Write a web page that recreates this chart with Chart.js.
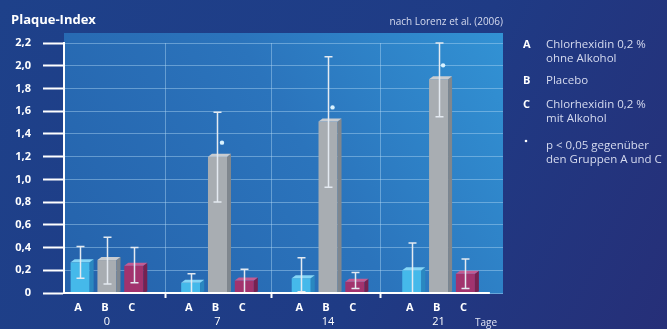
<!DOCTYPE html>
<html>
<head>
<meta charset="utf-8">
<script src="https://cdn.jsdelivr.net/npm/chart.js@4.4.1/dist/chart.umd.min.js"></script>
<style>
  html, body { margin: 0; padding: 0; background: #1f3b82; }
  canvas { display: block; }
</style>
</head>
<body>
<canvas id="chart" width="667" height="329"></canvas>
<script>
// Plaque-Index über die Zeit (Tage), Mittelwert und Streuung je Gruppe
const days = [0, 7, 14, 21];
const groupLetters = ['A', 'B', 'C'];

const meanA = [0.27, 0.09, 0.13, 0.20];
const meanB = [0.29, 1.20, 1.51, 1.88];
const meanC = [0.24, 0.11, 0.10, 0.17];

const lowA  = [0.13, 0.00, 0.01, 0.00];
const highA = [0.41, 0.17, 0.31, 0.44];
const lowB  = [0.08, 0.80, 0.93, 1.55];
const highB = [0.49, 1.59, 2.08, 2.20];
const lowC  = [0.09, 0.00, 0.04, 0.04];
const highC = [0.40, 0.21, 0.18, 0.30];

// p < 0,05 für Gruppe B gegenüber A und C
const significantB = [false, true, true, true];

const yTicks = [0, 0.2, 0.4, 0.6, 0.8, 1.0, 1.2, 1.4, 1.6, 1.8, 2.0, 2.2];
const dividerDays = [3.7, 10.45, 17.3];

const legendEntries = [
  { key: 'A', lines: ['Chlorhexidin 0,2 %', 'ohne Alkohol'] },
  { key: 'B', lines: ['Placebo'] },
  { key: 'C', lines: ['Chlorhexidin 0,2 %', 'mit Alkohol'] },
  { key: '•', lines: ['p < 0,05 gegenüber', 'den Gruppen A und C'] }
];

const X_MIN = -2.72, X_MAX = 25.08, AXIS_END = 24.25;
const FONT = "'Open Sans', 'DejaVu Sans', sans-serif";

const faces = [
  { front: '#45b9ea', side: '#2a88c0', top: '#86d6f6' },
  { front: '#a8adb2', side: '#80878e', top: '#c9ccd0' },
  { front: '#a2336e', side: '#772150', top: '#c45b92' }
];

function toPoints(values) { return days.map((d, i) => ({ x: d, y: values[i] })); }

const lows = [lowA, lowB, lowC];
const highs = [highA, highB, highC];

const D3X = 4, D3Y = 3;

const panelPlugin = {
  id: 'panel',
  beforeDraw(chart) {
    const { ctx, chartArea, scales } = chart;
    ctx.save();
    const g = ctx.createLinearGradient(0, 0, chart.width, chart.height);
    g.addColorStop(0, '#1e418a');
    g.addColorStop(0.6, '#1f3b85');
    g.addColorStop(1, '#262f78');
    ctx.fillStyle = g;
    ctx.fillRect(0, 0, chart.width, chart.height);
    const top = chartArea.top - 10;
    const bottom = scales.y.getPixelForValue(0) + 1;
    const pg = ctx.createLinearGradient(chartArea.left, bottom, chartArea.right, top);
    pg.addColorStop(0, '#2562ab');
    pg.addColorStop(0.55, '#2b74bc');
    pg.addColorStop(1, '#3292d4');
    ctx.fillStyle = pg;
    ctx.fillRect(chartArea.left, top, chartArea.right - chartArea.left, bottom - top);
    ctx.restore();
  }
};

const barDecorPlugin = {
  id: 'barDecor',
  afterDatasetsDraw(chart) {
    const { ctx, scales } = chart;
    const y = scales.y;
    ctx.save();
    chart.data.datasets.forEach((ds, di) => {
      const meta = chart.getDatasetMeta(di);
      meta.data.forEach(bar => {
        const p = bar.getProps(['x', 'y', 'base', 'width'], true);
        const l = p.x - p.width / 2, r = p.x + p.width / 2;
        // side face
        ctx.fillStyle = faces[di].side;
        ctx.beginPath();
        ctx.moveTo(r, p.base);
        ctx.lineTo(r, p.y);
        ctx.lineTo(r + D3X, p.y - D3Y);
        ctx.lineTo(r + D3X, p.base - 1);
        ctx.closePath();
        ctx.fill();
        // top face
        ctx.fillStyle = faces[di].top;
        ctx.beginPath();
        ctx.moveTo(l, p.y);
        ctx.lineTo(l + D3X, p.y - D3Y);
        ctx.lineTo(r + D3X, p.y - D3Y);
        ctx.lineTo(r, p.y);
        ctx.closePath();
        ctx.fill();
      });
    });
    // error bars
    ctx.strokeStyle = '#e4eaf1';
    ctx.lineWidth = 1.5;
    chart.data.datasets.forEach((ds, di) => {
      const meta = chart.getDatasetMeta(di);
      meta.data.forEach((bar, i) => {
        const x = Math.round(bar.x) + 0.5;
        const yl = y.getPixelForValue(lows[di][i]);
        const yh = y.getPixelForValue(highs[di][i]);
        ctx.beginPath();
        ctx.moveTo(x, yl); ctx.lineTo(x, yh);
        ctx.moveTo(x - 4, yl); ctx.lineTo(x + 4, yl);
        ctx.moveTo(x - 4, yh); ctx.lineTo(x + 4, yh);
        ctx.stroke();
      });
    });
    // significance markers on group B
    const metaB = chart.getDatasetMeta(1);
    ctx.fillStyle = '#d9f2ff';
    metaB.data.forEach((bar, i) => {
      if (!significantB[i]) return;
      ctx.beginPath();
      ctx.arc(bar.x + 4.5, bar.y - 14, 2.2, 0, Math.PI * 2);
      ctx.fill();
    });
    ctx.restore();
  }
};

const annotationsPlugin = {
  id: 'annotations',
  afterDraw(chart) {
    const { ctx, scales, chartArea } = chart;
    const y0 = scales.y.getPixelForValue(0);
    ctx.save();
    // x axis line
    ctx.strokeStyle = '#ffffff';
    ctx.lineWidth = 2;
    ctx.beginPath();
    ctx.moveTo(chartArea.left, y0);
    ctx.lineTo(scales.x.getPixelForValue(AXIS_END), y0);
    ctx.stroke();

    // group letters under each bar
    ctx.fillStyle = '#ffffff';
    ctx.font = `bold 11px ${FONT}`;
    ctx.textAlign = 'center';
    ctx.textBaseline = 'middle';
    chart.data.datasets.forEach((ds, di) => {
      chart.getDatasetMeta(di).data.forEach(bar => {
        ctx.fillText(groupLetters[di], bar.x - 2, 308);
      });
    });

    // unit of x axis
    ctx.font = `10px ${FONT}`;
    ctx.fillStyle = '#dfe3f3';
    ctx.fillText('Tage', 486, 323);

    // title and source
    ctx.textAlign = 'left';
    ctx.fillStyle = '#ffffff';
    ctx.font = `bold 13px ${FONT}`;
    ctx.fillText('Plaque-Index', 11, 20);
    ctx.textAlign = 'right';
    ctx.fillStyle = '#d6dbef';
    ctx.font = `10px ${FONT}`;
    ctx.fillText('nach Lorenz et al. (2006)', 503, 22);

    // legend
    ctx.textAlign = 'left';
    const startYs = [45, 81, 105, 146];
    legendEntries.forEach((e, k) => {
      let yy = startYs[k];
      ctx.fillStyle = '#ffffff';
      ctx.font = `bold 11px ${FONT}`;
      if (e.key === '•') {
        ctx.beginPath();
        ctx.arc(526, yy - 5, 1.3, 0, Math.PI * 2);
        ctx.fill();
      } else {
        ctx.fillText(e.key, 523, yy);
      }
      ctx.fillStyle = '#d6dbef';
      ctx.font = `11.5px ${FONT}`;
      e.lines.forEach(line => {
        ctx.fillText(line, 546, yy);
        yy += 13.5;
      });
    });
    ctx.restore();
  }
};

new Chart(document.getElementById('chart'), {
  type: 'bar',
  data: {
    datasets: [
      { label: 'A', data: toPoints(meanA), backgroundColor: faces[0].front, xAxisID: 'x' },
      { label: 'B', data: toPoints(meanB), backgroundColor: faces[1].front, xAxisID: 'x' },
      { label: 'C', data: toPoints(meanC), backgroundColor: faces[2].front, xAxisID: 'x' }
    ]
  },
  options: {
    responsive: false,
    animation: false,
    devicePixelRatio: 1,
    categoryPercentage: 0.7276,
    barPercentage: 0.71,
    layout: { padding: { top: 43, right: 164, left: 0, bottom: 0 } },
    plugins: { legend: { display: false }, tooltip: { enabled: false } },
    scales: {
      x: {
        type: 'linear',
        position: 'bottom',
        weight: 1,
        offset: false,
        min: X_MIN, max: X_MAX,
        afterBuildTicks: s => { s.ticks = days.map(v => ({ value: v })); },
        afterFit: s => { s.height = 30; },
        grid: { display: false, drawTicks: false, offset: false },
        border: { display: false },
        ticks: {
          color: '#ffffff',
          font: { family: FONT, size: 11 },
          padding: 16,
          callback: v => String(v),
          autoSkip: false,
          maxRotation: 0
        }
      },
      x2: {
        type: 'linear',
        position: 'bottom',
        weight: 0,
        offset: false,
        min: X_MIN, max: X_MAX,
        afterBuildTicks: s => { s.ticks = dividerDays.map(v => ({ value: v })); },
        afterFit: s => { s.height = 6; },
        grid: { offset: false, color: 'rgba(175,215,245,0.45)', lineWidth: 1, tickColor: '#ffffff', tickLength: 5, tickWidth: 2 },
        border: { display: false },
        ticks: { display: false }
      },
      y: {
        min: 0, max: 2.2,
        afterBuildTicks: s => { s.ticks = yTicks.map(v => ({ value: v })); },
        afterFit: s => { s.width = 64; },
        grid: { color: 'rgba(175,215,245,0.45)', lineWidth: 1, tickColor: '#ffffff', tickLength: 21, tickWidth: 2 },
        border: { display: true, color: '#ffffff', width: 2 },
        ticks: {
          color: '#ffffff',
          padding: 12,
          font: { family: FONT, size: 11, weight: 'bold' },
          callback: v => (v === 0 ? '0' : v.toFixed(1).replace('.', ','))
        }
      }
    }
  },
  plugins: [panelPlugin, barDecorPlugin, annotationsPlugin]
});
</script>
</body>
</html>
